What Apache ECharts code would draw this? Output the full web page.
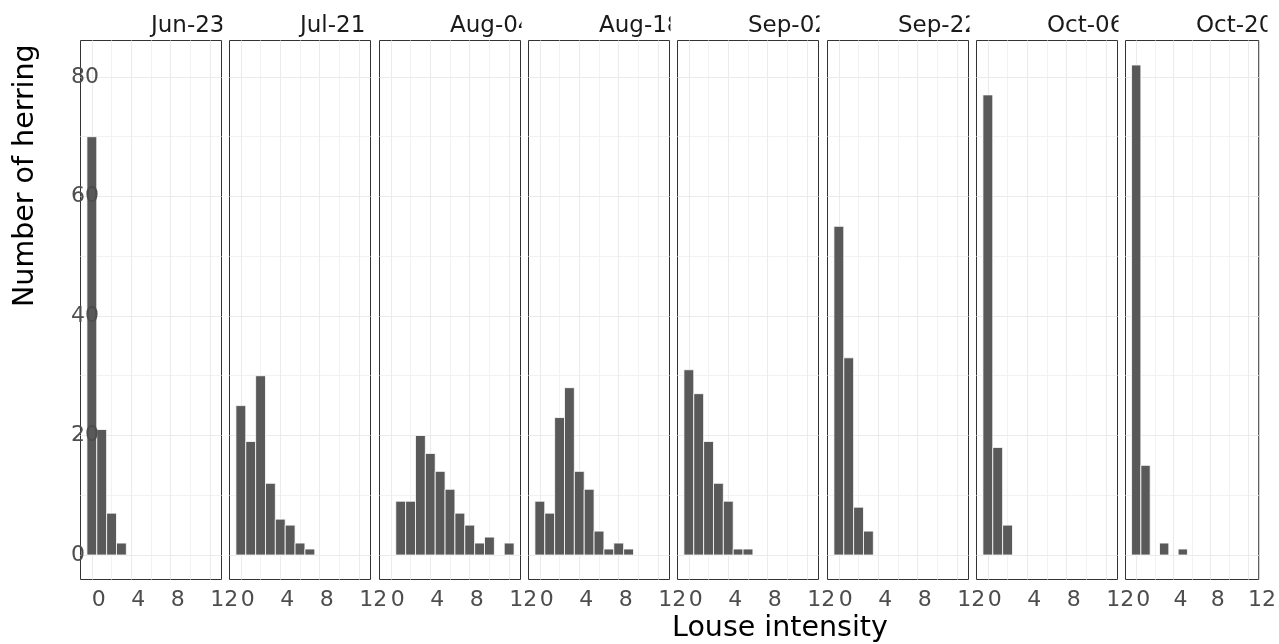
<!DOCTYPE html>
<html>
<head>
<meta charset="utf-8">
<script src="https://cdn.jsdelivr.net/npm/echarts@6/dist/echarts.min.js"></script>
<style>
  html, body { margin: 0; padding: 0; background: #fff; }
  #chart { width: 1279px; height: 644px; }
</style>
</head>
<body>
<div id="chart"></div>
<script>
// one facet per sampling date
const dates = ["Jun-23", "Jul-21", "Aug-04", "Aug-18", "Sep-02", "Sep-22", "Oct-06", "Oct-20"];

// herring counts per louse intensity, first entry = 0 lice
const jun23 = [70, 21, 7, 2];
const jul21 = [25, 19, 30, 12, 6, 5, 2, 1];
const aug04 = [0, 9, 9, 20, 17, 14, 11, 7, 5, 2, 3, 0, 2];
const aug18 = [9, 7, 23, 28, 14, 11, 4, 1, 2, 1];
const sep02 = [31, 27, 19, 12, 9, 1, 1];
const sep22 = [55, 33, 8, 4];
const oct06 = [77, 18, 5];
const oct20 = [82, 15, 0, 2, 0, 1];

const xTicks = [0, 4, 8, 12];
const xMinor = [2, 6, 10];
const yTicks = [0, 20, 40, 60, 80];
const yMinor = [10, 30, 50, 70];

const counts = [jun23, jul21, aug04, aug18, sep02, sep22, oct06, oct20];
const binWidth = 1;

// panel layout (px), half-pixel offsets keep the borders crisp
const panelLeft = 80.5, panelStep = 149.3, panelW = 141, panelTop = 40.5, panelH = 539;
const font = "DejaVu Sans";

// ggplot-style 5% expansion around the bars
let maxBin = 0, maxCount = 0;
counts.forEach(c => {
  maxBin = Math.max(maxBin, c.length - 1);
  maxCount = Math.max(maxCount, ...c);
});
const xLo = -binWidth / 2, xHi = maxBin + binWidth / 2;
const xMin = xLo - 0.05 * (xHi - xLo), xMax = xHi + 0.05 * (xHi - xLo);
const yMin = -0.05 * maxCount, yMax = maxCount * 1.05;

const grids = [], xAxes = [], yAxes = [], series = [], graphics = [];

function gridLines() {
  const major = { color: "#EBEBEB", width: 1.1, type: "solid" };
  const minor = { color: "#F2F2F2", width: 1, type: "solid" };
  return []
    .concat(xMinor.map(v => ({ xAxis: v, lineStyle: minor })))
    .concat(yMinor.map(v => ({ yAxis: v, lineStyle: minor })))
    .concat(xTicks.map(v => ({ xAxis: v, lineStyle: major })))
    .concat(yTicks.map(v => ({ yAxis: v, lineStyle: major })));
}

dates.forEach((d, i) => {
  const left = Math.round(panelLeft + i * panelStep - 0.5) + 0.5;
  grids.push({
    left: left, top: panelTop, width: panelW, height: panelH,
    show: true, borderColor: "#333333", borderWidth: 1, backgroundColor: "#fff"
  });
  xAxes.push({
    gridIndex: i, type: "value", min: xMin, max: xMax,
    axisLine: { show: false },
    splitLine: { show: false },
    axisTick: { show: true, customValues: xTicks, length: 5, lineStyle: { color: "#333333", width: 1 } },
    axisLabel: {
      customValues: xTicks, align: "left", margin: 10,
      color: "#4D4D4D", fontSize: 22, fontFamily: font
    }
  });
  yAxes.push({
    gridIndex: i, type: "value", min: yMin, max: yMax, z: 10,
    axisLine: { show: false },
    splitLine: { show: false },
    axisTick: { show: false },
    axisLabel: {
      show: i === 0, customValues: yTicks, align: "left", margin: 9.5,
      color: "#4D4D4D", fontSize: 22, fontFamily: font
    }
  });
  // background grid lines
  series.push({
    type: "line", xAxisIndex: i, yAxisIndex: i, data: [], z: 1,
    silent: true,
    markLine: {
      silent: true, symbol: "none", z: 1, animation: false,
      label: { show: false }, emphasis: { disabled: true },
      data: gridLines()
    }
  });
  // histogram bars
  series.push({
    type: "custom", xAxisIndex: i, yAxisIndex: i, z: 2, silent: true,
    data: counts[i].map((n, k) => [k, n]),
    encode: { x: 0, y: 1 },
    renderItem: function (params, api) {
      const x = api.value(0), n = api.value(1);
      if (!n) return null;
      const a = api.coord([x - binWidth / 2, n]);
      const b = api.coord([x + binWidth / 2, 0]);
      return {
        type: "rect",
        shape: { x: a[0], y: a[1], width: b[0] - a[0], height: b[1] - a[1] },
        style: { fill: "#595959", stroke: "#ffffff", lineWidth: 0.8 }
      };
    }
  });
  // strip label, starts at panel centre and is clipped at the panel edge
  graphics.push({
    type: "text", z: 50, x: left + panelW / 2, y: 26,
    style: { text: d, fontSize: 23, fontFamily: font, fill: "#1A1A1A",
             align: "left", verticalAlign: "middle", textAlign: "left", textVerticalAlign: "middle" }
  });
  graphics.push({
    type: "rect", z: 100,
    shape: { x: left + panelW + 1, y: 0, width: i < dates.length - 1 ? panelStep - panelW + 4 : 30, height: 39 },
    style: { fill: "#ffffff" }
  });
});

graphics.push({
  type: "text", z: 50, x: 25.2, y: 307, rotation: Math.PI / 2,
  style: { text: "Number of herring", fontSize: 28.5, fontFamily: font, fill: "#000",
           align: "left", verticalAlign: "middle", textAlign: "left", textVerticalAlign: "middle" }
});
graphics.push({
  type: "text", z: 50, x: 672, y: 629,
  style: { text: "Louse intensity", fontSize: 28.5, fontFamily: font, fill: "#000",
           align: "left", verticalAlign: "middle", textAlign: "left", textVerticalAlign: "middle" }
});

const chart = echarts.init(document.getElementById("chart"));
chart.setOption({
  animation: false,
  backgroundColor: "#ffffff",
  grid: grids,
  xAxis: xAxes,
  yAxis: yAxes,
  series: series,
  graphic: { elements: graphics }
});
</script>
</body>
</html>
